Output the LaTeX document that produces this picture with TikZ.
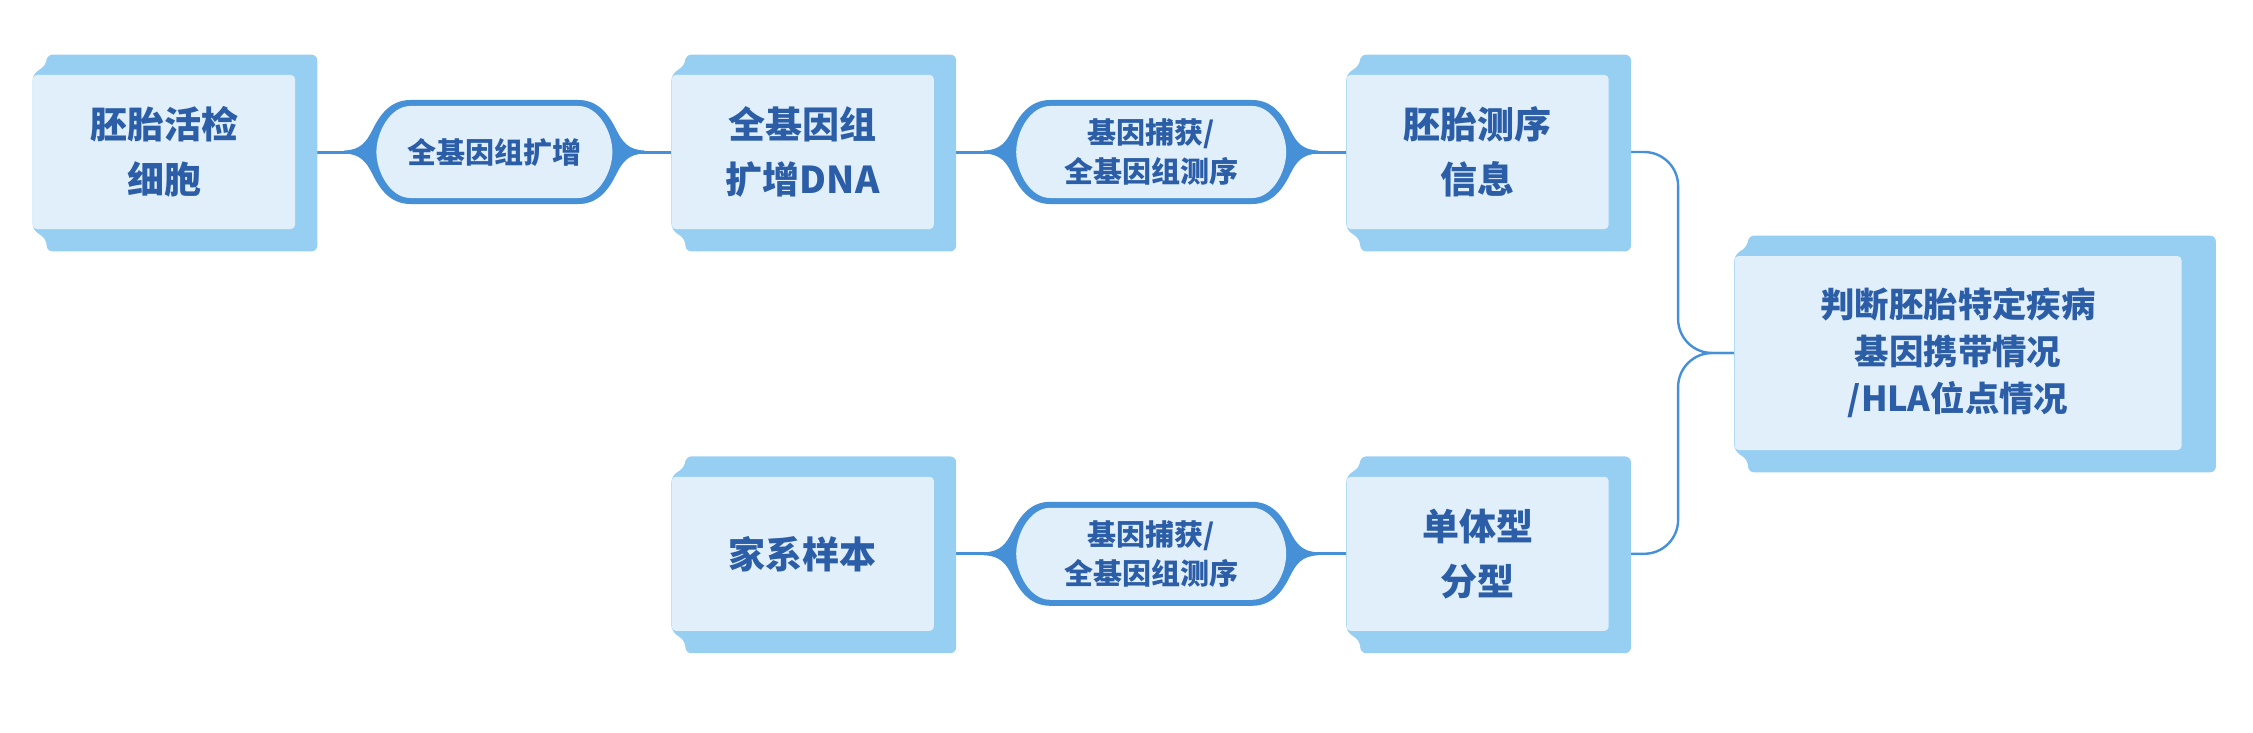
\documentclass[tikz,border=0pt]{standalone}
\usepackage{fontspec}
\setmainfont{Noto Sans CJK SC}
\usetikzlibrary{positioning,calc}
\definecolor{pgtink}{HTML}{2B5EA7}
\definecolor{pgtface}{HTML}{E1EFFB}
\definecolor{pgtplate}{HTML}{97CFF3}
\definecolor{pgtwire}{HTML}{4590D6}
\pgfdeclarelayer{wires}
\pgfdeclarelayer{plates}
\pgfsetlayers{wires,plates,main}
% raised plate behind a box: #1 = how far it sticks out on the right
\newcommand{\backplate}[2][11pt]{%
  \fill[pgtplate, rounded corners=3pt]
    ([xshift=7pt, yshift=10pt]#2.north west) -- ([xshift=#1, yshift=10pt]#2.north east)
    -- ([xshift=#1, yshift=-11pt]#2.south east) -- ([xshift=7pt, yshift=-11pt]#2.south west)
    -- ([xshift=7pt, yshift=-5pt]#2.south west) -- (#2.south west)
    -- (#2.north west) -- ([xshift=7pt, yshift=5pt]#2.north west) -- cycle;}
% flared capsule round a step label: #2 = half length of the flat edge
\newcommand{\pillshape}[2]{%
  \begin{scope}[shift={(#1.center)}]
    \fill[pgtwire] (-#2,-52) -- (#2,-52)
      .. controls (#2+22,-52) and (#2+32,-34) .. (#2+38,-22)
      .. controls (#2+44,-10) and (#2+50,-2) .. (#2+66,-1.5) -- (#2+66,1.5)
      .. controls (#2+50,2) and (#2+44,10) .. (#2+38,22)
      .. controls (#2+32,34) and (#2+22,52) .. (#2,52) -- (-#2,52)
      .. controls (-#2-22,52) and (-#2-32,34) .. (-#2-38,22)
      .. controls (-#2-44,10) and (-#2-50,2) .. (-#2-66,1.5) -- (-#2-66,-1.5)
      .. controls (-#2-50,-2) and (-#2-44,-10) .. (-#2-38,-22)
      .. controls (-#2-32,-34) and (-#2-22,-52) .. (-#2,-52) -- cycle;
    \fill[pgtface] (-#2,-46) -- (#2,-46)
      .. controls (#2+20,-46) and (#2+34,-20) .. (#2+34,0)
      .. controls (#2+34,20) and (#2+20,46) .. (#2,46) -- (-#2,46)
      .. controls (-#2-20,46) and (-#2-34,20) .. (-#2-34,0)
      .. controls (-#2-34,-20) and (-#2-20,-46) .. (-#2,-46) -- cycle;
  \end{scope}}

\begin{document}
\begin{tikzpicture}[
  x=0.5pt, y=-0.5pt,
  box/.style={fill=pgtface, rounded corners=2pt, minimum width=131pt, minimum height=77pt, inner sep=2pt, align=center, text=pgtink, font=\fontsize{18.5}{27.5}\selectfont\bfseries},
  sink/.style={box, minimum width=223.5pt, minimum height=97pt, font=\fontsize{17.2}{23.5}\selectfont\bfseries},
  pill/.style={align=center, inner sep=1pt, text=pgtink, font=\fontsize{14.5}{19.5}\selectfont\bfseries},
  wire/.style={pgtwire, line width=1.5pt},
  link/.style={pgtwire, line width=1.2pt, rounded corners=17pt},
]
  \useasboundingbox (0,0) rectangle (2253,733);
  \node[box] (b1) at (164,152) {胚胎活检\\细胞};
  \node[box, right=188pt of b1] (b2) {全基因组\\扩增DNA};
  \node[box, right=206pt of b2] (b3) {胚胎测序\\信息};
  \node[box, below=123.5pt of b2] (b4) {家系样本};
  \node[box, right=206pt of b4] (b5) {单体型\\分型};
  \node[sink] (b6) at (1958,353) {判断胚胎特定疾病\\基因携带情况\\/HLA位点情况};
  \node[pill] (p1) at ($(b1.east)!.5!(b2.west)+(11,0)$) {全基因组扩增};
  \node[pill] (p2) at ($(b2.east)!.5!(b3.west)+(11,0)$) {基因捕获/\\全基因组测序};
  \node[pill] (p3) at ($(b4.east)!.5!(b5.west)+(11,0)$) {基因捕获/\\全基因组测序};
  \coordinate (j) at ([xshift=-28pt]b6.west);
  \begin{pgfonlayer}{plates}
    \foreach \n in {b1,b2,b3,b4,b5} \backplate{\n};
    \backplate[17pt]{b6}
    \pillshape{p1}{84}
    \pillshape{p2}{101}
    \pillshape{p3}{101}
  \end{pgfonlayer}
  \begin{pgfonlayer}{wires}
    \draw[wire] (b1) -- (p1) -- (b2);
    \draw[wire] (b2) -- (p2) -- (b3);
    \draw[wire] (b4) -- (p3) -- (b5);
    \draw[link] (b3) -| (j) -- (b6);
    \draw[link] (b5) -| (j) -- (b6);
  \end{pgfonlayer}
\end{tikzpicture}
\end{document}
